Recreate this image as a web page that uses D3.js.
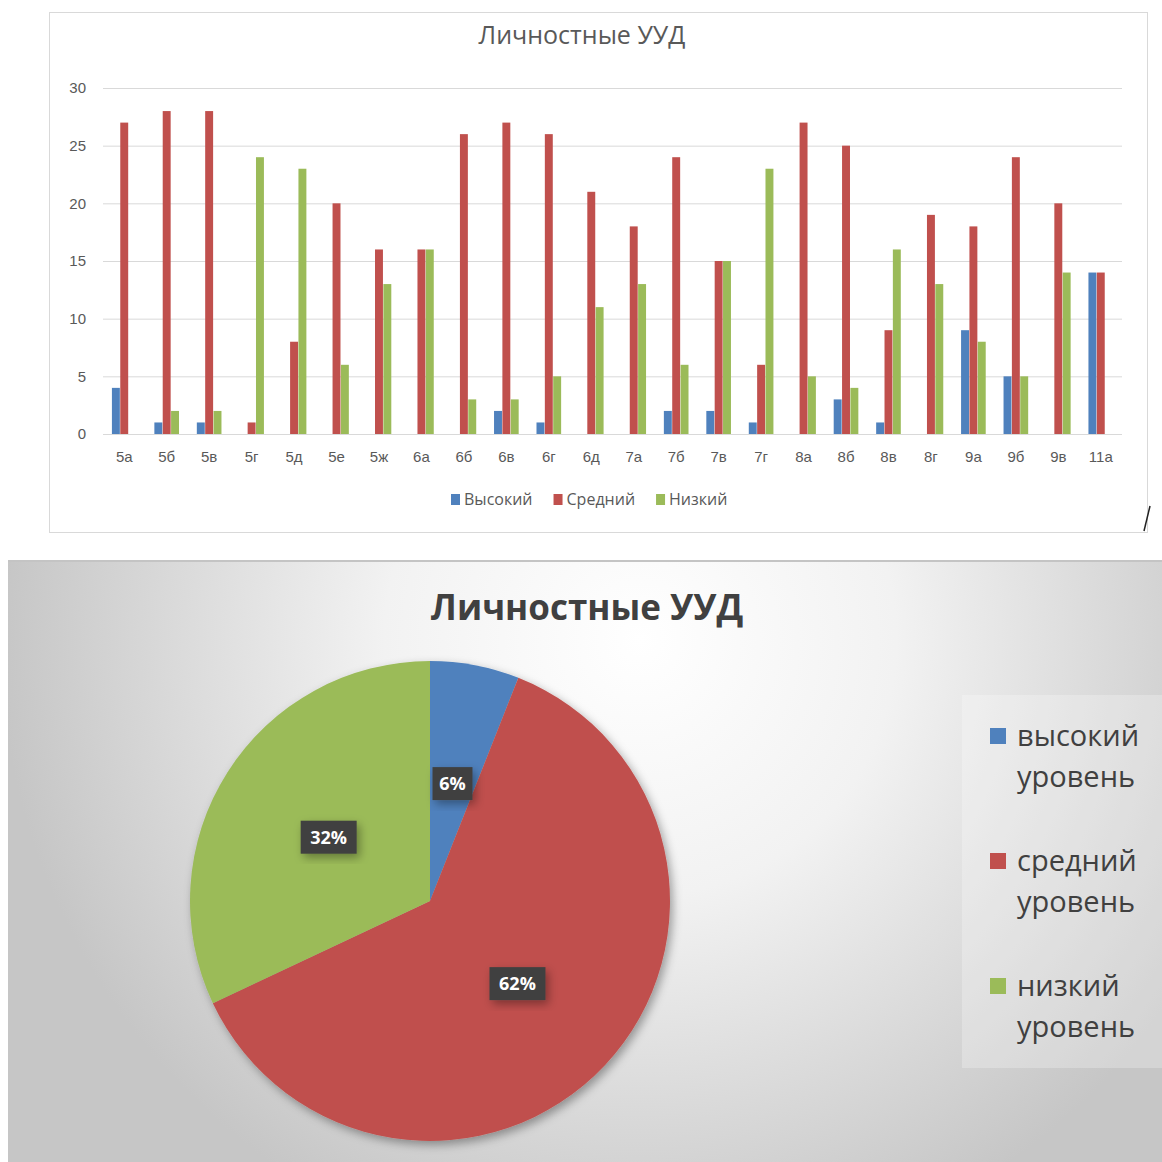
<!DOCTYPE html>
<html>
<head>
	<meta charset="UTF-8"/>
	<title>Личностные УУД</title>
	<style type="text/css">
		body { margin: 0; background: #fff; font-family: 'Open Sans', sans-serif; }
		svg { display: block; }
		.grid line { stroke: #d9d9d9; stroke-width: 1; }
		.grid path { stroke-width: 0; }
		.tick text { fill: #595959; font-size: 15px; }
		text.title { font-size: 25px; fill: #595959; }
		text.legend { font-size: 16px; fill: #595959; }
		text.pietitle { font-size: 35px; font-weight: 700; fill: #404040; }
		text.pielabel { font-size: 18px; font-weight: 700; fill: #fff; }
		text.pielegend { font-size: 29px; fill: #404040; }
	</style>
	<script src="https://d3js.org/d3.v7.min.js"></script>
</head>
<body>
	<svg width="1162" height="1162"></svg>
	<script>
		// bar chart data
		const classes = ['5а','5б','5в','5г','5д','5е','5ж','6а','6б','6в','6г','6д','7а','7б','7в','7г','8а','8б','8в','8г','9а','9б','9в','11а'];
		const seriesNames = ['Высокий', 'Средний', 'Низкий'];
		const high   = [4, 1, 1, 0, 0, 0, 0, 0, 0, 2, 1, 0, 0, 2, 2, 1, 0, 3, 1, 0, 9, 5, 0, 14];
		const middle = [27, 28, 28, 1, 8, 20, 16, 16, 26, 27, 26, 21, 18, 24, 15, 6, 27, 25, 9, 19, 18, 24, 20, 14];
		const low    = [0, 2, 2, 24, 23, 6, 13, 16, 3, 3, 5, 11, 13, 6, 15, 23, 5, 4, 16, 13, 8, 5, 14, 0];
		const yTicks = [0, 5, 10, 15, 20, 25, 30];

		// pie data
		const levelNames = [['высокий', 'уровень'], ['средний', 'уровень'], ['низкий', 'уровень']];
		const levelShares = [6, 62, 32];

		const colors = ['#4f81bd', '#c0504d', '#9bbb59'];
		const title = 'Личностные УУД';

		const svg = d3.select('svg');
		const defs = svg.append('defs');

		// ---------- top: clustered bars ----------
		svg.append('rect')
			.attr('x', 49.5).attr('y', 12.5)
			.attr('width', 1098).attr('height', 520)
			.attr('fill', '#fff').attr('stroke', '#d9d9d9');

		svg.append('text').attr('class', 'title')
			.attr('x', 582).attr('y', 44)
			.attr('text-anchor', 'middle')
			.text(title);

		const yScale = d3.scaleLinear().domain([0, 30]).range([434, 88]);
		const x0 = d3.scaleBand().domain(classes).range([103, 1122])
			.paddingInner(0.4).paddingOuter(0.2);
		const x1 = d3.scaleBand().domain(seriesNames).range([0, x0.bandwidth()])
			.padding(0.05);

		// gridlines + y labels
		svg.append('g').attr('class', 'grid')
			.attr('transform', 'translate(103,0)')
			.call(d3.axisLeft(yScale).tickValues(yTicks).tickSize(-1019).tickPadding(17))
			.call(g => g.select('.domain').remove())
			.call(g => g.selectAll('.tick text').attr('font-family', null));

		// x labels
		svg.append('g')
			.attr('transform', 'translate(0,434)')
			.call(d3.axisBottom(x0).tickSize(0).tickPadding(17))
			.call(g => g.select('.domain').remove())
			.call(g => g.selectAll('.tick text').attr('font-family', null));

		const rows = classes.map((c, i) => ({ cls: c, values: [high[i], middle[i], low[i]] }));

		svg.append('g').selectAll('g')
			.data(rows)
			.join('g')
			.attr('transform', d => `translate(${x0(d.cls)},0)`)
			.selectAll('rect')
			.data(d => d.values.map((v, k) => ({ name: seriesNames[k], value: v, k })))
			.join('rect')
			.filter(d => d.value > 0)
			.attr('x', d => x1(d.name))
			.attr('y', d => yScale(d.value))
			.attr('width', x1.bandwidth())
			.attr('height', d => yScale(0) - yScale(d.value))
			.attr('fill', d => colors[d.k]);

		// legend for bars
		const leg = svg.append('g');
		let lx = 451;
		seriesNames.forEach((name, k) => {
			leg.append('rect').attr('x', lx).attr('y', 494)
				.attr('width', 9).attr('height', 11).attr('fill', colors[k]);
			const t = leg.append('text').attr('class', 'legend')
				.attr('x', lx + 13).attr('y', 505).text(name);
			lx += 13 + t.node().getComputedTextLength() + 21;
		});

		// stray pen mark at the corner
		svg.append('line')
			.attr('x1', 1144).attr('y1', 531).attr('x2', 1150).attr('y2', 506)
			.attr('stroke', '#222').attr('stroke-width', 1.5);

		// ---------- bottom: pie ----------
		const grad = defs.append('radialGradient').attr('id', 'bg')
			.attr('gradientUnits', 'userSpaceOnUse')
			.attr('cx', 640).attr('cy', 640).attr('r', 640);
		grad.append('stop').attr('offset', '0%').attr('stop-color', '#ffffff');
		grad.append('stop').attr('offset', '40%').attr('stop-color', '#f2f2f2');
		grad.append('stop').attr('offset', '100%').attr('stop-color', '#c6c6c6');

		const shadow = defs.append('filter').attr('id', 'shadow')
			.attr('x', '-20%').attr('y', '-20%').attr('width', '150%').attr('height', '150%');
		shadow.append('feDropShadow').attr('dx', 3).attr('dy', 4)
			.attr('stdDeviation', 5).attr('flood-color', '#000').attr('flood-opacity', 0.35);

		svg.append('rect')
			.attr('x', 8).attr('y', 560).attr('width', 1154).attr('height', 602)
			.attr('fill', 'url(#bg)');
		svg.append('line')
			.attr('x1', 8).attr('x2', 1162).attr('y1', 561).attr('y2', 561)
			.attr('stroke', '#c4c4c4').attr('stroke-width', 2);

		svg.append('text').attr('class', 'pietitle')
			.attr('x', 587).attr('y', 620)
			.attr('text-anchor', 'middle')
			.text(title);

		const radius = 240;
		const pie = d3.pie().sort(null).value(d => d);
		const arc = d3.arc().innerRadius(0).outerRadius(radius);
		const arcs = pie(levelShares);

		const pg = svg.append('g').attr('transform', 'translate(430,901)');
		pg.append('g').attr('filter', 'url(#shadow)')
			.selectAll('path')
			.data(arcs)
			.join('path')
			.attr('d', arc)
			.attr('fill', (d, i) => colors[i]);

		const labels = pg.selectAll('g.lbl')
			.data(arcs)
			.join('g').attr('class', 'lbl')
			.attr('transform', d => `translate(${arc.centroid(d)})`);
		labels.append('rect')
			.attr('x', d => d.data < 10 ? -20 : -28)
			.attr('y', -16)
			.attr('width', d => d.data < 10 ? 40 : 56)
			.attr('height', 33)
			.attr('fill', '#404040')
			.attr('filter', 'url(#shadow)');
		labels.append('text').attr('class', 'pielabel')
			.attr('text-anchor', 'middle')
			.attr('y', 7)
			.text(d => d.data + '%');

		// pie legend
		svg.append('rect')
			.attr('x', 962).attr('y', 695).attr('width', 200).attr('height', 373)
			.attr('fill', '#ffffff').attr('fill-opacity', 0.25);
		levelNames.forEach((lines, i) => {
			const y0 = 728 + i * 125;
			svg.append('rect').attr('x', 990).attr('y', y0)
				.attr('width', 16).attr('height', 16).attr('fill', colors[i]);
			lines.forEach((s, j) => {
				svg.append('text').attr('class', 'pielegend')
					.attr('x', 1017).attr('y', y0 + 18 + j * 41)
					.text(s);
			});
		});
	</script>
</body>
</html>
